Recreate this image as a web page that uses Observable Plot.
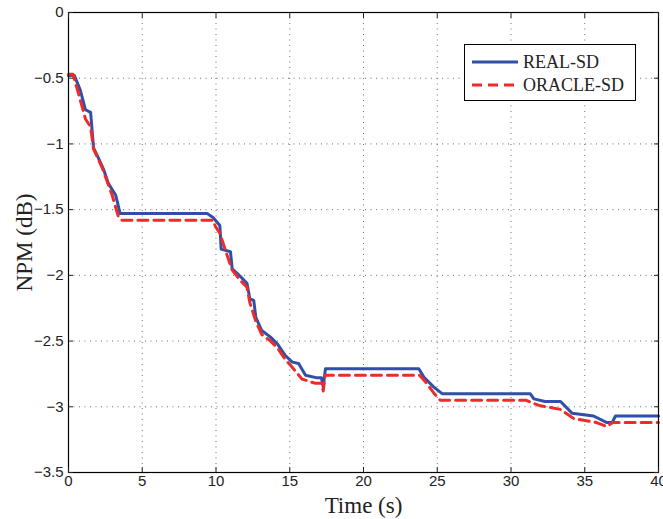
<!DOCTYPE html>
<html><head><meta charset="utf-8">
<script src="https://cdn.jsdelivr.net/npm/d3@7"></script>
<script src="https://cdn.jsdelivr.net/npm/@observablehq/plot@0.6"></script>
<style>
body{margin:0;background:#fff;}
#wrap{position:relative;width:663px;height:519px;}
#legend{position:absolute;left:464px;top:44px;width:172px;height:57px;border:1.2px solid #000;background:#fff;box-sizing:border-box;font-family:"Liberation Serif","Times New Roman",serif;font-size:18px;color:#222;}
#legend .row{position:absolute;left:6px;height:20px;display:flex;align-items:center;}
#legend .row span{margin-left:4px;}
</style>
</head><body>
<div id="wrap"></div>
<script>
const xTicks = [0, 5, 10, 15, 20, 25, 30, 35, 40];
const yTicks = [0, -0.5, -1, -1.5, -2, -2.5, -3, -3.5];
const seriesNames = ["REAL-SD", "ORACLE-SD"];
const seriesColors = ["#3050A8", "#EE2A2A"];
const xLabel = "Time (s)";
const yLabel = "NPM (dB)";

const realT = [0, 0.4, 0.8, 1.15, 1.5, 1.7, 2.0, 2.4, 2.7, 3.2, 3.5, 9.4, 9.8, 10.26, 10.35, 10.98, 11.1, 11.66, 12.1, 12.3, 12.56, 12.7, 13.1, 13.7, 14.15, 14.7, 15.17, 15.6, 16.07, 16.86, 17.15, 17.27, 17.42, 23.75, 24.1, 24.77, 25.33, 31.3, 31.55, 32.3, 33.36, 34.15, 35.6, 36.5, 36.86, 37.08, 40];
const realV = [-0.48, -0.48, -0.59, -0.74, -0.76, -1.03, -1.1, -1.2, -1.3, -1.39, -1.53, -1.53, -1.56, -1.62, -1.80, -1.82, -1.95, -2.01, -2.06, -2.18, -2.19, -2.32, -2.42, -2.47, -2.52, -2.61, -2.66, -2.67, -2.76, -2.78, -2.78, -2.85, -2.71, -2.71, -2.775, -2.85, -2.90, -2.90, -2.94, -2.96, -2.96, -3.05, -3.07, -3.12, -3.12, -3.07, -3.07];

const oracleT = [0, 0.3, 0.59, 1.15, 1.5, 1.7, 2.28, 2.96, 3.4, 3.6, 9.8, 9.97, 10.26, 10.76, 11.1, 11.66, 12.1, 12.3, 12.7, 13.1, 13.7, 14.15, 14.7, 15.17, 15.84, 16.7, 17.15, 17.27, 17.4, 23.8, 24.2, 24.8, 25.2, 31.0, 31.9, 33.36, 34.26, 35.8, 36.5, 36.9, 40];
const oracleV = [-0.47, -0.47, -0.58, -0.81, -0.87, -1.04, -1.18, -1.39, -1.56, -1.58, -1.58, -1.63, -1.68, -1.85, -1.96, -2.04, -2.09, -2.21, -2.35, -2.45, -2.50, -2.55, -2.64, -2.70, -2.79, -2.82, -2.82, -2.88, -2.76, -2.76, -2.81, -2.90, -2.95, -2.95, -2.99, -3.02, -3.09, -3.12, -3.15, -3.12, -3.12];

const real = realT.map((t, i) => ({t, v: realV[i]}));
const oracle = oracleT.map((t, i) => ({t, v: oracleV[i]}));

const sans = "'Liberation Sans', Arial, sans-serif";
const serif = "'Liberation Serif', 'Times New Roman', serif";
const fmt = d3.format("");

const chart = Plot.plot({
  width: 663,
  height: 519,
  marginLeft: 68,
  marginRight: 5,
  marginTop: 12,
  marginBottom: 47,
  style: {fontFamily: sans, fontSize: "15px", color: "#222", background: "#fff", overflow: "visible"},
  x: {domain: [0, 40]},
  y: {domain: [-3.5, 0]},
  marks: [
    Plot.gridX(xTicks, {stroke: "#555", strokeOpacity: 0.85, strokeWidth: 1, strokeDasharray: "1,4.5"}),
    Plot.gridY(yTicks, {stroke: "#555", strokeOpacity: 0.85, strokeWidth: 1, strokeDasharray: "1,4.5"}),
    Plot.line(real, {x: "t", y: "v", stroke: seriesColors[0], strokeWidth: 3}),
    Plot.line(oracle, {x: "t", y: "v", stroke: seriesColors[1], strokeWidth: 3, strokeDasharray: "10,6"}),
    Plot.frame({stroke: "#000", strokeWidth: 1.2}),
    Plot.axisX({ticks: xTicks, anchor: "bottom", tickSize: 5, dy: -5, fill: "none", label: null}),
    Plot.axisX({ticks: xTicks, anchor: "top", tickSize: 5, dy: 5, fill: "none", label: null}),
    Plot.axisY({ticks: yTicks, anchor: "left", tickSize: 5, dx: 5, fill: "none", label: null}),
    Plot.axisY({ticks: yTicks, anchor: "right", tickSize: 5, dx: -5, fill: "none", label: null}),
    Plot.axisX({ticks: xTicks, anchor: "bottom", tickSize: 0, tickPadding: 3, tickFormat: fmt, label: null, fontFamily: sans, fontSize: 15}),
    Plot.axisY({ticks: yTicks, anchor: "left", tickSize: 0, tickPadding: 5, tickFormat: fmt, label: null, fontFamily: sans, fontSize: 15}),
    Plot.axisX({ticks: [], anchor: "bottom", tickSize: 0, label: xLabel, labelAnchor: "center", labelArrow: "none", labelOffset: 40, fontFamily: serif, fontSize: 23}),
    Plot.axisY({ticks: [], anchor: "left", tickSize: 0, label: yLabel, labelAnchor: "center", labelArrow: "none", labelOffset: 53, fontFamily: serif, fontSize: 23})
  ]
});
const wrap = document.getElementById("wrap");
wrap.appendChild(chart);

const legend = document.createElement("div");
legend.id = "legend";
seriesNames.forEach((name, i) => {
  const row = document.createElement("div");
  row.className = "row";
  row.style.top = (7 + i * 23) + "px";
  const dash = i === 1 ? ' stroke-dasharray="10,6"' : '';
  row.innerHTML = `<svg width="48" height="6"><line x1="1" y1="3" x2="47" y2="3" stroke="${seriesColors[i]}" stroke-width="3"${dash}/></svg><span>${name}</span>`;
  legend.appendChild(row);
});
wrap.appendChild(legend);
</script>
</body></html>
